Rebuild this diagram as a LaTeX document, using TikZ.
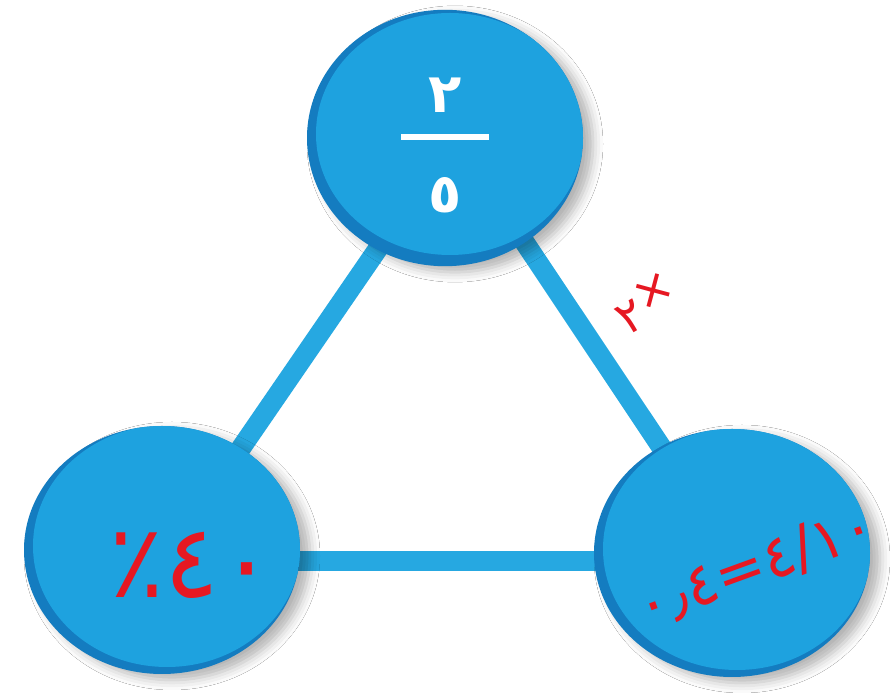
\documentclass[tikz,border=0pt]{standalone}
\usepackage{fontspec}
\newfontfamily\arabicfont[Script=Arabic]{DejaVu Sans}
\usetikzlibrary{shapes.geometric, shadows.blur, backgrounds, positioning}
\definecolor{ballblue}{RGB}{30,162,223}
\definecolor{rimblue}{RGB}{20,124,192}
\definecolor{linkblue}{RGB}{38,168,225}
\definecolor{inkred}{RGB}{230,24,34}

\begin{document}
\begin{tikzpicture}[
    ball/.style={ellipse, minimum width=5.52cm, minimum height=4.96cm, inner sep=0pt, fill=rimblue,
        blur shadow={shadow xshift=0.2cm, shadow yshift=-0.12cm, shadow blur radius=0.2cm, shadow opacity=30},
        path picture={\fill[ballblue] ([shift={(0.1,0.08)}]path picture bounding box.center) ellipse [x radius=2.68cm, y radius=2.42cm];}},
    link/.style={draw=linkblue, line width=0.4cm},
    hand/.style={text=inkred, inner sep=1pt},
]
    \useasboundingbox (0,0) rectangle (17.8,13.94);

    % The three balls
    \node[ball, text=white, font=\arabicfont\bfseries\fontsize{31}{31}\selectfont] (top) at (8.9, 11.18)
        {\begin{tabular}{@{}c@{}}\rule{0pt}{1.3cm}٢\\[-0.53cm] \rule{1.76cm}{0.12cm}\\[0.35cm] ٥\end{tabular}};
    \node[ball] (left) at (3.24, 2.94) {};
    \node[ball] (right) at (14.64, 2.88) {};

    % Handwritten notes
    \node[hand, font=\arabicfont\fontsize{58}{58}\selectfont] (pct) at ([shift={(0.6,-0.3)}]left.center) {٤٠٪};
    \node[hand, font=\arabicfont\fontsize{34}{34}\selectfont, rotate=20] (dec) at ([shift={(0.48,-0.28)}]right.center) {٤/١٠=٠٫٤};

    % Links
    \begin{scope}[on background layer]
        \fill[white] (0,0) rectangle (17.8,13.94);
        \draw[link] ([xshift=0.18cm]top.center) -- ([xshift=0.18cm]left.center);
        \draw[link] ([xshift=0.2cm]top.center) -- node[hand, pos=0.45, right=0.55cm, rotate=30, font=\arabicfont\fontsize{27}{27}\selectfont] (mult) {٢\raisebox{0.25em}{×}} (right.center);
        \draw[link] ([yshift=-0.22cm]left.center) -- ([yshift=-0.16cm]right.center);
    \end{scope}
\end{tikzpicture}
\end{document}
